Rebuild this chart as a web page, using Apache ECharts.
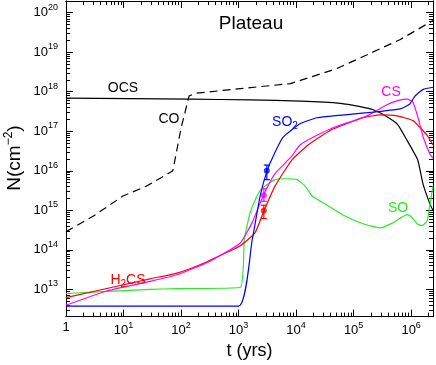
<!DOCTYPE html>
<html>
<head>
<meta charset="utf-8">
<script src="https://cdn.jsdelivr.net/npm/echarts@6/dist/echarts.min.js"></script>
<style>
html, body { margin: 0; padding: 0; background: #fff; }
#main { width: 436px; height: 365px; }
</style>
</head>
<body>
<div id="main"></div>
<script>
// axis ranges and tick labels (t in yrs, N in cm^-2)
var tRange = [1, 2.4e6];
var nRange = [2.06e12, 1.97e20];
var xTicks = [1, 1e1, 1e2, 1e3, 1e4, 1e5, 1e6];
var yTicks = [1e13, 1e14, 1e15, 1e16, 1e17, 1e18, 1e19, 1e20];

// model curves [t, N]
var ocs = [[1, 6.9e17], [144, 6.5e17], [1.6e3, 6.2e17], [1.2e4, 5.8e17], [5.9e4, 5.1e17],
    [1.3e5, 4.2e17], [2.2e5, 3.5e17], [3.5e5, 2.5e17], [5.8e5, 1.5e17], [8.5e5, 5.9e16],
    [1.3e6, 1.9e16], [1.6e6, 4.8e15], [2.1e6, 1.5e15], [2.4e6, 1.0e15]];
var co = [[1, 2.9e14], [3.0, 7.2e14], [9.8, 2.3e15], [25, 4.1e15], [72, 1.0e16],
    [100, 1.2e17], [138, 7.8e17], [174, 9.1e17], [1070, 1.2e18], [7940, 1.6e18],
    [5.0e4, 3.8e18], [1.86e5, 9.1e18], [6.5e5, 2.1e19], [2.4e6, 6.3e19]];
var so2 = [[1, 3.8e12], [1000, 3.8e12], [1720, 1.74e14], [2370, 2.3e15], [3130, 1.0e16],
    [4315, 2.95e16], [5940, 7.1e16], [1.17e4, 1.55e17], [2.3e4, 2.2e17], [4.4e4, 2.45e17],
    [1.72e5, 2.95e17], [6.5e5, 3.7e17], [9.5e5, 4.9e17], [1.17e6, 7.8e17], [1.62e6, 1.15e18],
    [2.4e6, 1.3e18]];
var cs = [[1, 4.0e12], [4.8, 8.9e12], [29, 1.6e13], [85, 2.35e13], [319, 5.2e13],
    [1060, 1.48e14], [1720, 4.9e14], [2670, 2.3e15], [4300, 8.5e15], [8200, 2.24e16],
    [1.17e4, 4.5e16], [2.3e4, 7.9e16], [4.4e4, 1.23e17], [1.72e5, 2.45e17], [3.8e5, 4.7e17],
    [6.5e5, 6.2e17], [8.5e5, 6.5e17], [1.07e6, 5.5e17], [1.32e6, 2.2e17], [1.62e6, 7.1e16],
    [2.14e6, 2.6e16], [2.4e6, 2.1e16]];
var h2cs = [[1, 6.2e12], [29, 1.86e13], [85, 2.6e13], [214, 4.2e13], [631, 8.7e13],
    [1100, 1.3e14], [1940, 2.75e14], [2770, 9.8e14], [4300, 4.1e15], [8500, 1.9e16],
    [1.62e4, 4.5e16], [3.9e4, 1.05e17], [1.46e5, 2.2e17], [2.9e5, 2.6e17], [5.7e5, 2.45e17],
    [1.08e6, 1.86e17], [1.44e6, 1.23e17], [1.9e6, 7.9e16], [2.4e6, 4.5e16]];
var so = [[1, 7.9e12], [29, 1.0e13], [85, 1.05e13], [1060, 1.12e13], [1260, 1.9e14],
    [1590, 8.7e14], [2100, 2.3e15], [2560, 3.6e15], [4300, 6.0e15], [6440, 6.3e15],
    [1.04e4, 6.0e15], [1.44e4, 4.1e15], [1.9e4, 2.3e15], [3.2e4, 1.45e15], [7.1e4, 7.2e14],
    [1.46e5, 4.6e14], [2.9e5, 3.6e14], [4.9e5, 4.9e14], [8.5e5, 7.8e14], [1.04e6, 6.5e14],
    [1.27e6, 4.6e14], [1.55e6, 4.1e14], [1.9e6, 5.5e14], [2.14e6, 1.5e15], [2.4e6, 4.1e15]];

// observations: t, N, low, high
var obsSO2 = [3100, 1.0e16, 6.0e15, 1.4e16];
var obsCS = [2750, 2.4e15, 1.7e15, 3.5e15];
var obsH2CS = [2750, 9.8e14, 6.2e14, 1.35e15];

var FONT = 'Liberation Sans';
var chart = echarts.init(document.getElementById('main'));

function lg(p) { return [Math.log10(p[0]), Math.log10(p[1])]; }
function minor(lo, hi) {
    var out = [];
    for (var e = Math.floor(lo); e <= Math.ceil(hi); e++) {
        for (var k = 2; k <= 9; k++) {
            var v = e + Math.log10(k);
            if (v > lo && v < hi) out.push(v);
        }
    }
    return out;
}

var xMin = Math.log10(tRange[0]), xMax = Math.log10(tRange[1]);
var yMin = Math.log10(nRange[0]), yMax = Math.log10(nRange[1]);
var xMajor = xTicks.map(Math.log10), yMajor = yTicks.map(Math.log10);
var xMinor = minor(xMin, xMax), yMinor = minor(yMin, yMax);

// superscript: lift the small token with bottom padding
var labelRich = {
    b: { fontSize: 13, fontFamily: FONT, color: '#000' },
    s: { fontSize: 9, fontFamily: FONT, color: '#000', padding: [0, 0, 11, 0] }
};
function powLabel(v) {
    var e = Math.round(v);
    return e === 0 ? '{b|1}' : '{b|10}{s|' + e + '}';
}

function axis(dim, pos, ticks, len, labels) {
    var a = {
        type: 'value',
        min: dim === 'x' ? xMin : yMin,
        max: dim === 'x' ? xMax : yMax,
        position: pos,
        axisLine: { show: true, onZero: false, lineStyle: { color: '#000', width: 1 } },
        axisTick: { show: true, inside: true, length: len, customValues: ticks, lineStyle: { color: '#000', width: 1 } },
        axisLabel: { show: false },
        splitLine: { show: false }
    };
    if (labels) {
        a.axisLabel = { show: true, customValues: ticks, formatter: powLabel, rich: labelRich, margin: dim === 'x' ? 4 : 8 };
    }
    return a;
}

function line(data, color, dashed) {
    return {
        type: 'line', data: data.map(lg), showSymbol: false, smooth: dashed ? false : 0.15,
        lineStyle: { color: color, width: 1.2, type: dashed ? [8, 5] : 'solid' },
        silent: true, z: 2
    };
}

function obsSeries(o, color) {
    return [{
        type: 'custom', silent: true, z: 3,
        data: [[Math.log10(o[0]), Math.log10(o[2]), Math.log10(o[3])]],
        renderItem: function (params, api) {
            var top = api.coord([api.value(0), api.value(2)]);
            var bot = api.coord([api.value(0), api.value(1)]);
            var st = { stroke: color, lineWidth: 1.2 };
            return {
                type: 'group', children: [
                    { type: 'line', shape: { x1: top[0], y1: top[1], x2: bot[0], y2: bot[1] }, style: st },
                    { type: 'line', shape: { x1: top[0] - 3, y1: top[1], x2: top[0] + 3, y2: top[1] }, style: st },
                    { type: 'line', shape: { x1: bot[0] - 3, y1: bot[1], x2: bot[0] + 3, y2: bot[1] }, style: st }
                ]
            };
        }
    }, {
        type: 'scatter', silent: true, z: 4, symbolSize: 6,
        data: [[Math.log10(o[0]), Math.log10(o[1])]],
        itemStyle: { color: color }
    }];
}

function txt(text, x, y, color, size, rich) {
    return {
        type: 'text', x: x, y: y, z: 10,
        style: {
            text: text, fill: color, font: size + 'px "' + FONT + '"',
            align: 'center', verticalAlign: 'middle', rich: rich
        }
    };
}
// subscript: drop the small token with top padding
function subRich(color) {
    return {
        a: { fontSize: 14, fontFamily: FONT, fill: color },
        d: { fontSize: 10, fontFamily: FONT, fill: color, padding: [8, 0, 0, 0] }
    };
}

var series = [
    line(co, '#000', true),
    line(ocs, '#000'),
    line(so, '#22ee22'),
    line(h2cs, '#ff0000'),
    line(cs, '#ff00ff'),
    line(so2, '#0000ff')
].concat(obsSeries(obsH2CS, '#ff0000'), obsSeries(obsCS, '#ff00ff'), obsSeries(obsSO2, '#0000ff'));

var option = {
    animation: false,
    backgroundColor: '#fff',
    grid: { left: 66, right: 3, top: 1, bottom: 42, containLabel: false },
    xAxis: [
        Object.assign(axis('x', 'bottom', xMajor, 7, true), {
            name: 't (yrs)', nameLocation: 'middle', nameGap: 23,
            nameTextStyle: { fontSize: 18, fontFamily: FONT, color: '#000' }
        }),
        axis('x', 'bottom', xMinor, 4),
        axis('x', 'top', xMajor, 7),
        axis('x', 'top', xMinor, 4)
    ],
    yAxis: [
        axis('y', 'left', yMajor, 7, true),
        axis('y', 'left', yMinor, 4),
        axis('y', 'right', yMajor, 7),
        axis('y', 'right', yMinor, 4)
    ],
    graphic: [
        txt('Plateau', 251, 24, '#000', 19),
        txt('OCS', 123, 88, '#000', 14),
        txt('CO', 169, 119, '#000', 14),
        txt('{a|SO}{d|2}', 285, 122, '#0000ff', 14, subRich('#0000ff')),
        txt('CS', 391, 92, '#ff00ff', 14),
        txt('SO', 398, 208, '#22ee22', 14),
        txt('{a|H}{d|2}{a|CS}', 128, 280, '#ff0000', 14, subRich('#ff0000')),
        {
            type: 'text', x: 15, y: 158, rotation: Math.PI / 2, z: 10,
            style: {
                text: '{a|N(cm}{s|\u22122}{a|)}', align: 'center', verticalAlign: 'middle',
                rich: {
                    a: { fontSize: 19, fontFamily: FONT, fill: '#000' },
                    s: { fontSize: 12, fontFamily: FONT, fill: '#000', padding: [0, 0, 12, 0] }
                }
            }
        }
    ],
    series: series
};

chart.setOption(option);
</script>
</body>
</html>
